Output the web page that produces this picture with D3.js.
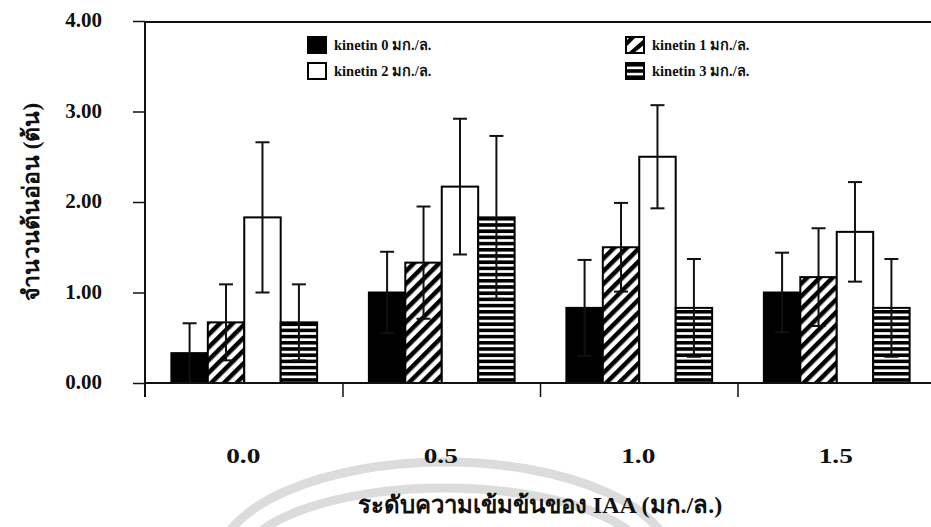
<!DOCTYPE html>
<html>
<head>
<meta charset="utf-8">
<script src="https://cdn.jsdelivr.net/npm/d3@7"></script>
<style>
  body { margin: 0; background: #fff; }
  svg { display: block; }
  text { font-family: "Liberation Serif", "Times New Roman", serif; font-weight: bold; fill: #111; }
</style>
</head>
<body>
<div id="chart"></div>
<script>
// IAA levels (mg/L) on the x axis
const categories = ['0.0', '0.5', '1.0', '1.5']
const seriesNames = ['kinetin 0 มก./ล.', 'kinetin 1 มก./ล.', 'kinetin 2 มก./ล.', 'kinetin 3 มก./ล.']

// mean number of shoots, one array per kinetin level
const kin0 = [0.33, 1.00, 0.83, 1.00]
const kin1 = [0.67, 1.33, 1.50, 1.17]
const kin2 = [1.83, 2.17, 2.50, 1.67]
const kin3 = [0.67, 1.83, 0.83, 0.83]

// error bar half-lengths
const err0 = [0.33, 0.45, 0.53, 0.44]
const err1 = [0.42, 0.62, 0.49, 0.54]
const err2 = [0.83, 0.75, 0.57, 0.55]
const err3 = [0.42, 0.90, 0.54, 0.54]

const yTicks = [0, 1, 2, 3, 4]

const width = 931
const height = 527

const svg = d3.select('#chart').append('svg')
    .attr('width', width).attr('height', height)

const defs = svg.append('defs')

// diagonal hatch
const hatch = defs.append('pattern')
    .attr('id', 'hatch').attr('patternUnits', 'userSpaceOnUse')
    .attr('width', 9).attr('height', 9)
    .attr('patternTransform', 'rotate(45)')
hatch.append('rect').attr('width', 9).attr('height', 9).attr('fill', '#fff')
hatch.append('rect').attr('x', 0).attr('y', 0).attr('width', 4.5).attr('height', 9).attr('fill', '#000')

// horizontal stripes
const stripes = defs.append('pattern')
    .attr('id', 'stripes').attr('patternUnits', 'userSpaceOnUse')
    .attr('width', 10).attr('height', 6.2)
stripes.append('rect').attr('width', 10).attr('height', 6.2).attr('fill', '#fff')
stripes.append('rect').attr('y', 0).attr('width', 10).attr('height', 3.6).attr('fill', '#000')

const fills = ['#000', 'url(#hatch)', '#fff', 'url(#stripes)']

// faint watermark arcs behind everything
const wm = svg.append('g').attr('fill', 'none').attr('stroke', '#dcdcdc').attr('stroke-width', 9)
wm.append('ellipse').attr('cx', 445).attr('cy', 565).attr('rx', 228).attr('ry', 103)
wm.append('ellipse').attr('cx', 445).attr('cy', 565).attr('rx', 205).attr('ry', 77)

const x0 = d3.scaleBand().domain(categories).range([145.5, 935.5]).paddingInner(0)
const x1 = d3.scaleBand().domain(d3.range(4)).range([0, x0.bandwidth()]).paddingInner(0).paddingOuter(0.71)
const y = d3.scaleLinear().domain([0, 4]).range([383, 21])

const rows = categories.map((c, i) => ({
    cat: c,
    vals: [kin0[i], kin1[i], kin2[i], kin3[i]],
    errs: [err0[i], err1[i], err2[i], err3[i]]
}))

// top frame line
svg.append('line')
    .attr('x1', 145).attr('x2', width).attr('y1', y(4) + 1).attr('y2', y(4) + 1)
    .attr('stroke', '#111').attr('stroke-width', 2)

// bars
const groups = svg.selectAll('.grp').data(rows).enter().append('g')
    .attr('class', 'grp')
    .attr('transform', d => `translate(${x0(d.cat)},0)`)

groups.selectAll('rect').data(d => d.vals.map((v, i) => ({ v, i, e: d.errs[i] })))
    .enter().append('rect')
    .attr('x', d => x1(d.i))
    .attr('y', d => y(d.v))
    .attr('width', x1.bandwidth())
    .attr('height', d => y(0) - y(d.v))
    .attr('fill', d => fills[d.i])
    .attr('stroke', '#000').attr('stroke-width', 2)

// error bars
const eb = groups.selectAll('.err').data(d => d.vals.map((v, i) => ({ v, i, e: d.errs[i] })))
    .enter().append('g').attr('class', 'err')
    .attr('stroke', '#111').attr('stroke-width', 2)
eb.append('line')
    .attr('x1', d => x1(d.i) + x1.bandwidth() / 2).attr('x2', d => x1(d.i) + x1.bandwidth() / 2)
    .attr('y1', d => y(Math.max(0, d.v - d.e))).attr('y2', d => y(d.v + d.e))
eb.append('line')
    .attr('x1', d => x1(d.i) + x1.bandwidth() / 2 - 7).attr('x2', d => x1(d.i) + x1.bandwidth() / 2 + 7)
    .attr('y1', d => y(d.v + d.e)).attr('y2', d => y(d.v + d.e))
eb.filter(d => d.v - d.e > 0.05).append('line')
    .attr('x1', d => x1(d.i) + x1.bandwidth() / 2 - 7).attr('x2', d => x1(d.i) + x1.bandwidth() / 2 + 7)
    .attr('y1', d => y(d.v - d.e)).attr('y2', d => y(d.v - d.e))

// y axis
const yAxis = svg.append('g').attr('transform', 'translate(145,0)')
    .call(d3.axisLeft(y).tickValues(yTicks).tickFormat(d3.format('.2f')).tickSize(12).tickPadding(0))
yAxis.select('.domain').remove()
yAxis.append('line').attr('x1', 0).attr('x2', 0).attr('y1', y(4)).attr('y2', 397)
    .attr('stroke', '#111').attr('stroke-width', 2)
yAxis.selectAll('.tick line').attr('stroke', '#111').attr('stroke-width', 1.5)
yAxis.selectAll('.tick text')
    .style('font-family', '"Liberation Serif", serif').style('font-weight', 'bold')
    .attr('font-size', 21).attr('fill', '#111')
    .attr('x', 0)
    .attr('transform', 'translate(-43,-1)')

// x axis line and group separators
svg.append('line').attr('x1', 145).attr('x2', width).attr('y1', y(0)).attr('y2', y(0))
    .attr('stroke', '#111').attr('stroke-width', 2)
svg.selectAll('.sep').data(categories.slice(1)).enter().append('line')
    .attr('x1', d => x0(d)).attr('x2', d => x0(d))
    .attr('y1', y(0)).attr('y2', 397)
    .attr('stroke', '#111').attr('stroke-width', 1.5)

// category labels
svg.selectAll('.cat').data(categories).enter().append('text')
    .attr('transform', d => `translate(${x0(d) + x0.bandwidth() / 2 - 1},463) scale(1.3,1)`)
    .attr('text-anchor', 'middle')
    .attr('font-size', 21)
    .text(d => d)

// axis titles
svg.append('text')
    .attr('x', 540).attr('y', 513)
    .attr('text-anchor', 'middle').attr('font-size', 24)
    .text('ระดับความเข้มข้นของ IAA (มก./ล.)')

svg.append('text')
    .attr('transform', 'translate(39,202) rotate(-90)')
    .attr('text-anchor', 'middle').attr('font-size', 23)
    .text('จำนวนต้นอ่อน (ต้น)')

// legend
const legendPos = [[308, 37], [626, 37], [308, 63], [626, 63]]
const leg = svg.selectAll('.leg').data(seriesNames).enter().append('g')
    .attr('transform', (d, i) => `translate(${legendPos[i][0]},${legendPos[i][1]})`)
leg.append('rect')
    .attr('width', 18).attr('height', 16)
    .attr('fill', (d, i) => i === 1 ? '#fff' : fills[i])
    .attr('stroke', '#000').attr('stroke-width', 2)
leg.filter((d, i) => i === 1).append('path')
    .attr('d', 'M2,16 L18,2 L18,8 L8,16 Z M0,10 L10,0 L4,0 L0,4 Z').attr('fill', '#000')
leg.append('text')
    .attr('x', 26).attr('y', 13)
    .attr('font-size', 14.5)
    .text(d => d)
</script>
</body>
</html>
